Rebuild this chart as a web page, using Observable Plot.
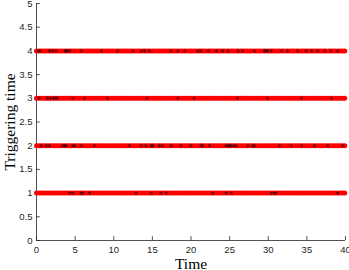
<!DOCTYPE html>
<html>
<head>
<meta charset="utf-8">
<script src="https://cdn.jsdelivr.net/npm/d3@7"></script>
<script src="https://cdn.jsdelivr.net/npm/@observablehq/plot@0.6"></script>
<style>
  html, body { margin: 0; padding: 0; background: #fff; }
</style>
</head>
<body>
<div id="chart"></div>
<script>
// Tick values
const xTicks = [0, 5, 10, 15, 20, 25, 30, 35, 40];
const yTicks = [0, 0.5, 1, 1.5, 2, 2.5, 3, 3.5, 4, 4.5, 5];

// Agent levels (triggering-time rows)
const levels = [1, 2, 3, 4];

// Red sampling instants (dense, read as continuous rows)
const redTimes = [0, 0.31, 0.6, 0.92, 1.2, 1.51, 1.8, 2.12, 2.41, 2.7, 3.02, 3.3, 3.61, 3.9, 4.22, 4.5, 4.81, 5.1, 5.42, 5.7,
  6.01, 6.3, 6.62, 6.9, 7.21, 7.5, 7.82, 8.1, 8.41, 8.7, 9.02, 9.3, 9.61, 9.9, 10.22, 10.5, 10.81, 11.1, 11.42, 11.7,
  12.01, 12.3, 12.62, 12.9, 13.21, 13.5, 13.82, 14.1, 14.41, 14.7, 15.02, 15.3, 15.61, 15.9, 16.22, 16.5, 16.81, 17.1, 17.42, 17.7,
  18.01, 18.3, 18.62, 18.9, 19.21, 19.5, 19.82, 20.1, 20.41, 20.7, 21.02, 21.3, 21.61, 21.9, 22.22, 22.5, 22.81, 23.1, 23.42, 23.7,
  24.01, 24.3, 24.62, 24.9, 25.21, 25.5, 25.82, 26.1, 26.41, 26.7, 27.02, 27.3, 27.61, 27.9, 28.22, 28.5, 28.81, 29.1, 29.42, 29.7,
  30.01, 30.3, 30.62, 30.9, 31.21, 31.5, 31.82, 32.1, 32.41, 32.7, 33.02, 33.3, 33.61, 33.9, 34.22, 34.5, 34.81, 35.1, 35.42, 35.7,
  36.01, 36.3, 36.62, 36.9, 37.21, 37.5, 37.82, 38.1, 38.41, 38.7, 39.02, 39.3, 39.61, 39.9];

// Black triggering instants per level
const black1 = [4.27, 4.7, 5.78, 6.0, 6.86, 12.9, 14.85, 16.1, 16.8, 22.8, 24.55, 25.2, 30.4, 30.8, 31.0, 39.0];
const black2 = [0.6, 1.25, 1.68, 3.4, 3.62, 3.84, 4.7, 4.92, 5.78, 7.5, 12.04, 13.55, 14.2, 14.85, 15.06, 15.9, 16.35, 17.43,
  18.7, 20.0, 21.3, 21.5, 22.4, 24.55, 24.8, 25.0, 25.2, 25.6, 25.85, 27.35, 28.0, 28.2, 31.45, 33.0, 34.3, 36.0, 37.7, 39.65];
const black3 = [0.3, 1.4, 1.8, 2.2, 2.5, 2.7, 4.7, 6.2, 9.2, 14.3, 18.3, 20.4, 26.0, 29.9, 34.3, 38.2];
const black4 = [0.2, 0.45, 1.7, 2.1, 2.55, 3.7, 3.84, 4.06, 4.3, 5.8, 8.4, 10.5, 12.47, 13.55, 13.98, 14.63, 17.4, 18.3, 19.2,
  20.9, 21.3, 22.2, 23.3, 24.1, 24.8, 26.1, 26.7, 28.2, 29.5, 29.7, 29.9, 30.4, 31.7, 32.5, 33.8, 34.9, 35.6, 36.4, 37.3, 38.1, 39.0];

const redPts = levels.flatMap(l => redTimes.map(t => ({t, l})));
const blackPts = [
  ...black1.map(t => ({t, l: 1})),
  ...black2.map(t => ({t, l: 2})),
  ...black3.map(t => ({t, l: 3})),
  ...black4.map(t => ({t, l: 4}))
];

const axisColor = "#262626";
const serif = "'Liberation Serif', 'Times New Roman', serif";

const chart = Plot.plot({
  width: 349,
  height: 270,
  marginLeft: 36,
  marginRight: 4,
  marginTop: 3,
  marginBottom: 30,
  x: {domain: [0, 40]},
  y: {domain: [0, 5]},
  style: {fontFamily: "'Liberation Sans', Arial, Helvetica, sans-serif", fontSize: "9.5px", color: axisColor, background: "#fff"},
  marks: [
    Plot.axisX(xTicks, {tickSize: 0, tickPadding: 6, label: null, tickFormat: d3.format("")}),
    Plot.axisY(yTicks, {tickSize: 0, tickPadding: 4, label: null, tickFormat: d3.format("")}),
    Plot.ruleX(xTicks, {y1: 0, y2: 0.08, stroke: axisColor, strokeWidth: 0.8}),
    Plot.ruleY(yTicks, {x1: 0, x2: 0.5, stroke: axisColor, strokeWidth: 0.8}),
    Plot.ruleX([0], {stroke: axisColor, strokeWidth: 0.8}),
    Plot.ruleY([0], {stroke: axisColor, strokeWidth: 0.8}),
    Plot.dot(redPts, {x: "t", y: "l", r: 2.5, fill: "#ff0000", stroke: "none"}),
    Plot.dot(blackPts, {x: "t", y: "l", r: 1.8, symbol: "asterisk", stroke: "#000", strokeWidth: 0.6, strokeOpacity: 0.7, fill: "none"}),
    Plot.text(["Time"], {frameAnchor: "bottom", lineAnchor: "bottom", dy: 28, fontFamily: serif, fontSize: 15.5, fill: "#000"}),
    Plot.text(["Triggering time"], {frameAnchor: "left", textAnchor: "middle", rotate: -90, dx: -26, fontFamily: serif, fontSize: 15.5, fill: "#000"})
  ]
});

document.getElementById("chart").appendChild(chart);
</script>
</body>
</html>
